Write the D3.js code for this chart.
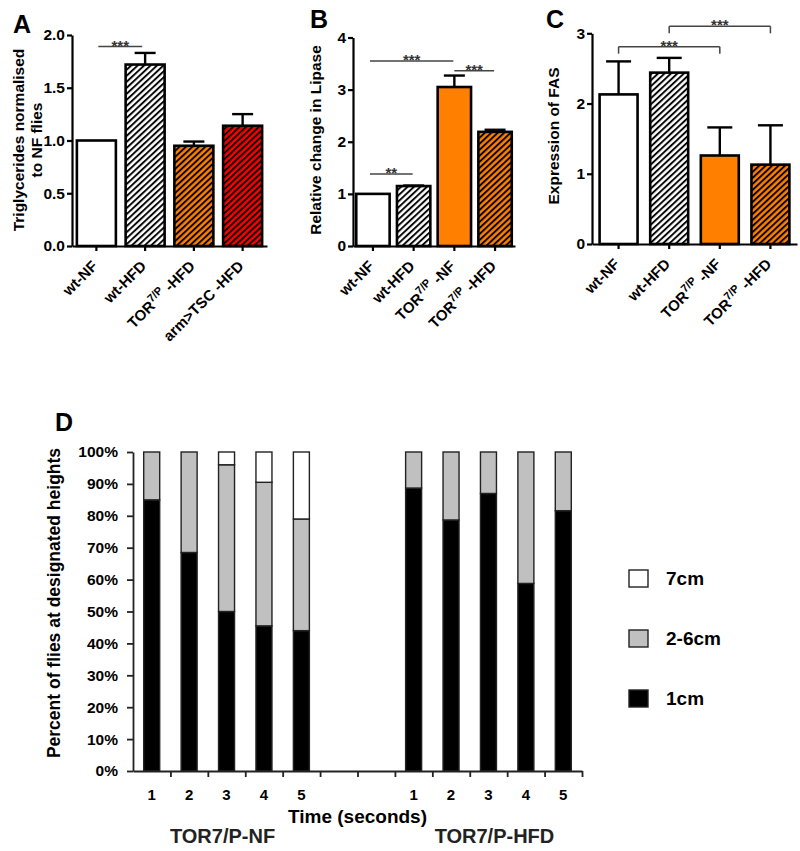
<!DOCTYPE html>
<html><head><meta charset="utf-8">
<script src="https://cdn.jsdelivr.net/npm/d3@7"></script>
<style>body{margin:0;background:#fff}svg{display:block}text{font-family:"Liberation Sans",Arial,sans-serif;font-weight:bold}</style>
</head><body>
<svg id="chart" width="800" height="851"></svg>
<script>
// ---------- DATA ----------
const catsA = ["wt-NF", "wt-HFD", "TOR^7/P -HFD", "arm>TSC -HFD"];
const valsA = [1.0, 1.72, 0.95, 1.14];
const errA  = [0, 0.11, 0.04, 0.11];
const ticksA = [0, 0.5, 1.0, 1.5, 2.0];

const catsB = ["wt-NF", "wt-HFD", "TOR^7/P -NF", "TOR^7/P -HFD"];
const valsB = [1.0, 1.15, 3.05, 2.19];
const errB  = [0, 0.01, 0.22, 0.04];
const ticksB = [0, 1, 2, 3, 4];

const catsC = ["wt-NF", "wt-HFD", "TOR^7/P -NF", "TOR^7/P -HFD"];
const valsC = [2.13, 2.44, 1.26, 1.13];
const errC  = [0.47, 0.21, 0.40, 0.56];
const ticksC = [0, 1, 2, 3];

const groupsD = ["TOR7/P-NF", "TOR7/P-HFD"];
const timesD = [1, 2, 3, 4, 5];
const seriesD = ["1cm", "2-6cm", "7cm"];
const oneCmNF = [85, 68.5, 50, 45.5, 44];
const twoSixNF = [15, 31.5, 46, 45, 35];
const sevenNF = [0, 0, 4, 9.5, 21];
const oneCmHFD = [88.7, 78.7, 87, 58.8, 81.6];
const twoSixHFD = [11.3, 21.3, 13, 41.2, 18.4];
const sevenHFD = [0, 0, 0, 0, 0];
const ticksD = [0, 10, 20, 30, 40, 50, 60, 70, 80, 90, 100];

// ---------- STYLE ----------
const ORANGE = "#ff8000", RED = "#ff0000";
const fillsA = ["#fff", "url(#hatchW)", "url(#hatchO)", "url(#hatchR)"];
const fillsBC = ["#fff", "url(#hatchW)", ORANGE, "url(#hatchO)"];
const colorsD = ["#000", "#c0c0c0", "#fff"];
const FONT = '"Liberation Sans",Arial,sans-serif';

const svg = d3.select("#chart");
const defs = svg.append("defs");
function hatch(id, bg) {
  const P = 4.4;
  const p = defs.append("pattern").attr("id", id).attr("patternUnits", "userSpaceOnUse")
    .attr("width", P).attr("height", P).attr("patternTransform", "rotate(47)");
  p.append("rect").attr("width", P).attr("height", P).attr("fill", bg);
  p.append("line").attr("x1", 1).attr("x2", 1).attr("y1", 0).attr("y2", P)
    .attr("stroke", "#000").attr("stroke-width", 1.9);
}
hatch("hatchW", "#fff"); hatch("hatchO", ORANGE); hatch("hatchR", RED);

function catLabel(g, s, x, y) {
  const t = g.append("text").attr("transform", `translate(${x},${y}) rotate(-45)`)
    .attr("text-anchor", "end").attr("font-size", 15);
  if (s.includes("^")) {
    const [a, rest] = s.split("^");
    const i = rest.indexOf(" ");
    t.append("tspan").text(a);
    t.append("tspan").attr("font-size", 11).attr("dy", -6).text(rest.slice(0, i));
    t.append("tspan").attr("dy", 6).text(rest.slice(i));
  } else t.text(s);
}

function barPanel(o) {
  const g = svg.append("g");
  const x = d3.scaleBand().domain(o.cats).range([o.x0, o.x1]).paddingInner(o.pi).paddingOuter(o.po);
  const y = d3.scaleLinear().domain([0, o.max]).range([o.y0, o.y1]);
  g.selectAll("rect.bar").data(o.cats).join("rect")
    .attr("x", d => x(d)).attr("width", x.bandwidth())
    .attr("y", (d, i) => y(o.vals[i])).attr("height", (d, i) => y(0) - y(o.vals[i]))
    .attr("fill", (d, i) => o.fills[i]).attr("stroke", "#000").attr("stroke-width", 2.6);
  o.cats.forEach((c, i) => {
    if (!o.err[i]) return;
    const cx = x(c) + x.bandwidth() / 2, cw = o.cap / 2;
    g.append("line").attr("x1", cx).attr("x2", cx).attr("y1", y(o.vals[i])).attr("y2", y(o.vals[i] + o.err[i]))
      .attr("stroke", "#000").attr("stroke-width", 2.4);
    g.append("line").attr("x1", cx - cw).attr("x2", cx + cw)
      .attr("y1", y(o.vals[i] + o.err[i])).attr("y2", y(o.vals[i] + o.err[i]))
      .attr("stroke", "#000").attr("stroke-width", 2.4);
  });
  const ya = g.append("g").attr("transform", `translate(${o.x0},0)`)
    .call(d3.axisLeft(y).tickValues(o.ticks).tickFormat(d3.format(o.fmt)).tickSize(5).tickPadding(2).tickSizeOuter(0));
  const xa = g.append("g").attr("transform", `translate(0,${o.y0})`)
    .call(d3.axisBottom(x).tickSize(5).tickSizeOuter(0).tickFormat(""));
  [ya, xa].forEach(a => {
    a.selectAll("path,line").attr("stroke", "#000").attr("stroke-width", 2.2);
    a.selectAll("text").attr("font-size", 15.5).attr("fill", "#000")
      .style("font-family", FONT).style("font-weight", "bold");
  });
  o.cats.forEach(c => catLabel(g, c, x(c) + x.bandwidth() / 2 + 2, o.y0 + 21));
  o.ylab.forEach((t, k) => g.append("text")
    .attr("transform", `translate(${o.ylx + k * 18},${o.yly}) rotate(-90)`)
    .attr("text-anchor", "middle").attr("font-size", 15.5).text(t));
  g.append("text").attr("x", o.lx).attr("y", o.ly).attr("font-size", 25).text(o.letter);
  o.sig.forEach(s => {
    const xa1 = x(o.cats[s.a]) + x.bandwidth() / 2 + (s.da || 0);
    const xb1 = x(o.cats[s.b]) + x.bandwidth() / 2 + (s.db || 0);
    const ly = y(s.v);
    g.append("line").attr("x1", xa1).attr("x2", xb1).attr("y1", ly).attr("y2", ly)
      .attr("stroke", "#444").attr("stroke-width", 1.5);
    if (s.bracket) {
      [xa1, xb1].forEach(xx => g.append("line").attr("x1", xx).attr("x2", xx).attr("y1", ly).attr("y2", ly + 7)
        .attr("stroke", "#444").attr("stroke-width", 1.5));
    }
    g.append("text").attr("x", (xa1 + xb1) / 2).attr("y", ly + 4).attr("text-anchor", "middle")
      .attr("font-size", 15).attr("font-weight", "normal").attr("fill", "#333").text(s.t);
  });
}

barPanel({cats: catsA, vals: valsA, err: errA, ticks: ticksA, fmt: ".1f", max: 2, fills: fillsA,
  x0: 72, x1: 267, y0: 246, y1: 35, pi: 0.2, po: 0.1, cap: 21,
  ylab: ["Triglycerides normalised", "to NF flies"], ylx: 24, yly: 140, lx: 13, ly: 33, letter: "A",
  sig: [{a: 0, b: 1, v: 1.89, t: "***", da: 2, db: -3}]});

barPanel({cats: catsB, vals: valsB, err: errB, ticks: ticksB, fmt: "d", max: 4, fills: fillsBC,
  x0: 353, x1: 515, y0: 246, y1: 37.5, pi: 0.18, po: 0.08, cap: 21,
  ylab: ["Relative change in Lipase"], ylx: 321, yly: 140, lx: 310, ly: 28, letter: "B",
  sig: [{a: 0, b: 2, v: 3.55, t: "***", da: -3, db: -1}, {a: 2, b: 3, v: 3.36, t: "***", db: -1},
        {a: 0, b: 1, v: 1.38, t: "**", da: -3, db: -1}]});

barPanel({cats: catsC, vals: valsC, err: errC, ticks: ticksC, fmt: "d", max: 3, fills: fillsBC,
  x0: 592, x1: 797, y0: 244, y1: 33.3, pi: 0.25, po: 0.15, cap: 25,
  ylab: ["Expression of FAS"], ylx: 559, yly: 136, lx: 546, ly: 28, letter: "C",
  sig: [{a: 0, b: 2, v: 2.81, t: "***", bracket: true}, {a: 1, b: 3, v: 3.1, t: "***", bracket: true}]});

// ---------- PANEL D ----------
const gD = svg.append("g");
const gap = 2;
const nSlots = groupsD.length * timesD.length + gap;
const xD = d3.scaleLinear().domain([0, nSlots]).range([133, 582]);
const yD = d3.scaleLinear().domain([0, 100]).range([771, 452]);
const dataD = [[oneCmNF, twoSixNF, sevenNF], [oneCmHFD, twoSixHFD, sevenHFD]];
const barW = 16;
groupsD.forEach((grp, gi) => {
  timesD.forEach((t, ti) => {
    const slot = gi * (timesD.length + gap) + ti;
    const cx = xD(slot + 0.5);
    let base = 0;
    seriesD.forEach((s, si) => {
      const v = dataD[gi][si][ti];
      if (v > 0) {
        gD.append("rect").attr("x", cx - barW / 2).attr("width", barW)
          .attr("y", yD(base + v)).attr("height", yD(base) - yD(base + v))
          .attr("fill", colorsD[si]).attr("stroke", "#222").attr("stroke-width", 1.4);
      }
      base += v;
    });
    gD.append("text").attr("x", cx).attr("y", 800).attr("text-anchor", "middle")
      .attr("font-size", 15).text(t);
  });
  const c0 = gi * (timesD.length + gap);
  gD.append("text").attr("x", xD(c0 + timesD.length / 2) - (gi ? -6 : 4)).attr("y", 843)
    .attr("text-anchor", "middle").attr("font-size", 20).attr("fill", "#222").text(grp);
});
const yaD = gD.append("g").attr("transform", "translate(133,0)")
  .call(d3.axisLeft(yD).tickValues(ticksD).tickFormat(d => d + "%").tickSize(6).tickPadding(9).tickSizeOuter(0));
const xaD = gD.append("g").attr("transform", "translate(0,771)")
  .call(d3.axisBottom(xD).tickValues(d3.range(1, nSlots + 1)).tickFormat("").tickSize(6).tickSizeOuter(0));
[yaD, xaD].forEach(a => {
  a.selectAll("path,line").attr("stroke", "#222").attr("stroke-width", 1.8);
  a.selectAll("text").attr("font-size", 15.5).attr("fill", "#000")
    .style("font-family", FONT).style("font-weight", "bold");
});
gD.append("text").attr("x", xD(nSlots / 2)).attr("y", 823).attr("text-anchor", "middle")
  .attr("font-size", 19).text("Time (seconds)");
gD.append("text").attr("transform", "translate(60,603) rotate(-90)").attr("text-anchor", "middle")
  .attr("font-size", 17.5).text("Percent of flies at designated heights");
gD.append("text").attr("x", 55).attr("y", 431).attr("font-size", 25).text("D");
seriesD.slice().reverse().forEach((s, k) => {
  const si = seriesD.length - 1 - k;
  const ly = 570 + k * 60;
  gD.append("rect").attr("x", 629).attr("y", ly).attr("width", 19).attr("height", 17)
    .attr("fill", colorsD[si]).attr("stroke", "#222").attr("stroke-width", 1.4);
  gD.append("text").attr("x", 666).attr("y", ly + 15).attr("font-size", 19).text(s);
});
</script>
</body></html>
